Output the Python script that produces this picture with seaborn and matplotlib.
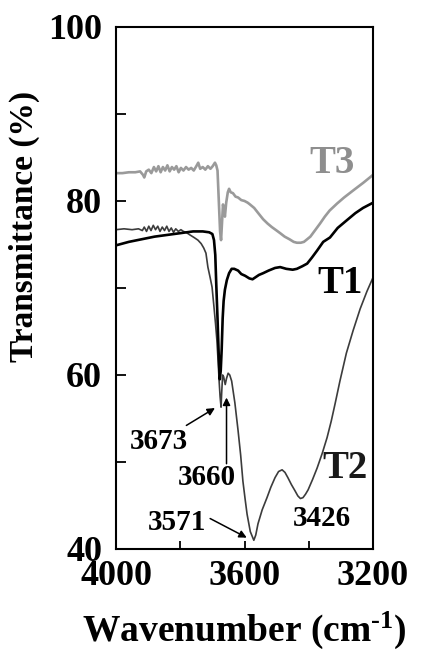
import matplotlib
matplotlib.use("Agg")
import matplotlib.pyplot as plt
import seaborn as sns
import pandas as pd
from matplotlib.ticker import MultipleLocator

# FTIR spectra in the O-H stretching region (wavenumber in cm-1, transmittance in %)
t1_wn = [4000, 3960, 3920, 3880, 3840, 3800, 3760, 3730, 3710, 3700, 3695, 3691,
         3688, 3684, 3680, 3677, 3674, 3671, 3668, 3665, 3661, 3655, 3648, 3640,
         3632, 3620, 3610, 3598, 3585, 3575, 3567, 3555, 3542, 3525, 3505, 3489,
         3470, 3450, 3437, 3420, 3405, 3390, 3374, 3355, 3334, 3310, 3281, 3255,
         3231, 3200]
t1_tr = [74.9, 75.3, 75.6, 75.9, 76.1, 76.3, 76.5, 76.5, 76.4, 76.2, 75.5, 73.8,
         70.5, 66.5, 62.0, 59.5, 60.5, 63.0, 66.5, 68.5, 69.8, 70.9, 71.7, 72.2,
         72.2, 72.0, 71.6, 71.4, 71.1, 71.0, 71.2, 71.5, 71.7, 72.0, 72.3, 72.4,
         72.2, 72.1, 72.2, 72.5, 72.8, 73.5, 74.3, 75.3, 75.8, 76.9, 77.8, 78.6,
         79.2, 79.8]

t2_wn = [4000, 3975, 3950, 3930, 3918, 3912, 3905, 3898, 3891, 3884, 3877, 3870,
         3863, 3856, 3849, 3842, 3835, 3828, 3821, 3814, 3806, 3798, 3790, 3782,
         3770, 3757, 3745, 3735, 3727, 3720, 3714, 3707, 3701, 3695, 3690, 3686,
         3682, 3679, 3676, 3673, 3671, 3668, 3665, 3660, 3656, 3651, 3646, 3640,
         3630, 3620, 3612, 3605, 3598, 3592, 3582, 3571, 3565, 3558, 3545, 3530,
         3518, 3505, 3494, 3483, 3474, 3465, 3454, 3443, 3434, 3426, 3418, 3410,
         3402, 3388, 3374, 3358, 3343, 3330, 3318, 3303, 3283, 3262, 3240, 3219,
         3200]
t2_tr = [76.7, 76.8, 76.7, 76.8, 76.6, 77.0, 76.5, 77.1, 76.6, 77.2, 76.7, 77.1,
         76.5, 77.0, 76.6, 77.1, 76.5, 76.9, 76.4, 76.8, 76.5, 76.7, 76.5, 76.4,
         76.1, 75.8, 75.5, 75.1, 74.6, 74.0, 72.4, 71.2, 70.1, 67.8, 65.8, 64.0,
         61.5, 59.3, 57.5, 56.3, 58.0, 60.0, 59.8, 58.9, 59.6, 60.2, 60.0, 59.3,
         56.8, 53.6, 50.8, 47.8, 45.7, 44.0, 42.0, 41.0, 41.6, 42.9, 44.5, 45.9,
         47.1, 48.2, 48.9, 49.1, 48.8, 48.2, 47.4, 46.7, 46.1, 45.8, 45.9, 46.3,
         46.8, 48.0, 49.3, 51.0, 52.8, 54.7, 56.7, 59.3, 62.5, 65.1, 67.6, 69.6,
         71.2]

t3_wn = [4000, 3980, 3960, 3940, 3925, 3916, 3912, 3906, 3898, 3890, 3882, 3875,
         3868, 3861, 3854, 3847, 3840, 3833, 3826, 3819, 3812, 3805, 3798, 3790,
         3782, 3774, 3766, 3758, 3750, 3744, 3738, 3730, 3722, 3714, 3706, 3699,
         3692, 3688, 3684, 3680, 3676, 3673, 3670, 3667, 3664, 3661, 3657, 3652,
         3648, 3643, 3636, 3628, 3620, 3610, 3600, 3590, 3583, 3570, 3555, 3542,
         3528, 3515, 3500, 3489, 3475, 3460, 3447, 3437, 3425, 3415, 3405, 3395,
         3385, 3375, 3365, 3350, 3335, 3312, 3290, 3262, 3230, 3200]
t3_tr = [83.2, 83.2, 83.3, 83.3, 83.4, 83.0, 82.7, 83.4, 83.6, 83.2, 83.9, 83.4,
         84.0, 83.3, 83.9, 83.5, 84.1, 83.4, 83.9, 83.6, 84.0, 83.3, 83.8, 83.5,
         83.9, 83.6, 83.8, 83.5, 84.0, 84.4, 83.7, 83.9, 83.6, 84.0, 83.7, 84.0,
         84.4, 84.1, 83.5, 80.0, 76.5, 75.5, 77.5, 79.6, 78.9, 78.2, 79.8, 81.0,
         81.4, 81.0, 80.9, 80.5, 80.4, 80.1, 80.0, 79.8, 79.6, 79.2, 78.5, 77.9,
         77.4, 77.0, 76.6, 76.3, 75.9, 75.6, 75.3, 75.2, 75.2, 75.3, 75.6, 75.9,
         76.4, 76.9, 77.4, 78.2, 78.9, 79.7, 80.4, 81.2, 82.1, 83.0]

sample_names = ["T1", "T2", "T3"]
x_ticks = [4000, 3600, 3200]
y_ticks = [40, 60, 80, 100]

# peak assignments: label, text position, arrow tail, arrow head (None = no arrow)
peak_labels = ["3673", "3660", "3571", "3426"]
peak_text_xy = [(3868, 52.4), (3717, 48.2), (3810, 43.0), (3360, 43.5)]
peak_arrow_tail = [(3781, 54.2), (3656, 49.8), (3707, 43.5), None]
peak_arrow_head = [(3692, 56.2), (3656, 57.4), (3593, 41.3), None]

sns.set_theme(style="ticks")
plt.rcParams["font.family"] = ["Liberation Serif", "DejaVu Serif"]
plt.rcParams["font.weight"] = "bold"
plt.rcParams["text.color"] = "black"
plt.rcParams["axes.labelcolor"] = "black"
plt.rcParams["xtick.color"] = "black"
plt.rcParams["ytick.color"] = "black"
plt.rcParams["mathtext.fontset"] = "custom"
plt.rcParams["mathtext.rm"] = "Liberation Serif:bold"
plt.rcParams["mathtext.bf"] = "Liberation Serif:bold"
plt.rcParams["mathtext.it"] = "Liberation Serif:bold"
plt.rcParams["mathtext.default"] = "bf"

df = pd.concat([
    pd.DataFrame({"wn": t1_wn, "tr": t1_tr, "sample": "T1"}),
    pd.DataFrame({"wn": t2_wn, "tr": t2_tr, "sample": "T2"}),
    pd.DataFrame({"wn": t3_wn, "tr": t3_tr, "sample": "T3"}),
], ignore_index=True)

fig = plt.figure(figsize=(4.22, 6.53), dpi=100)
ax = fig.add_axes([0.2749, 0.1593, 0.8839 - 0.2749, 0.9587 - 0.1593])

line_colors = {"T1": "#000000", "T2": "#3c3c3c", "T3": "#9a9a9a"}
line_widths = {"T1": 1.9, "T2": 1.2, "T3": 1.9}
for name in ["T3", "T2", "T1"]:
    sns.lineplot(data=df[df["sample"] == name], x="wn", y="tr", ax=ax,
                 color=line_colors[name], lw=line_widths[name],
                 estimator=None, sort=True, legend=False)

ax.set_xlim(4000, 3200)
ax.set_ylim(40, 100)
ax.set_xticks(x_ticks)
ax.set_xticklabels([str(v) for v in x_ticks])
ax.xaxis.set_minor_locator(MultipleLocator(200))
ax.set_yticks(y_ticks)
ax.set_yticklabels([str(v) for v in y_ticks])
ax.yaxis.set_minor_locator(MultipleLocator(10))

ax.tick_params(axis="x", which="both", direction="in", length=6, width=1.3,
               labelsize=26, pad=8, top=False, colors="black")
ax.tick_params(axis="y", which="both", direction="in", length=7.5, width=1.3,
               labelsize=26, pad=10, right=False, colors="black")
for s in ax.spines.values():
    s.set_visible(True)
    s.set_linewidth(1.5)
    s.set_color("black")

ax.set_xlabel(r"Wavenumber (cm$^{\text{-1}}$)", fontsize=27, fontweight="bold",
              labelpad=12, color="black")
ax.set_ylabel("Transmittance (%)", fontsize=24, fontweight="bold", color="black")
ax.yaxis.set_label_coords(-0.296, 0.617)

# sample labels
ax.text(3327, 84.3, "T3", color="#8e8e8e", fontsize=28, fontweight="bold",
        ha="center", va="center")
ax.text(3302, 70.5, "T1", color="black", fontsize=28, fontweight="bold",
        ha="center", va="center")
ax.text(3287, 49.3, "T2", color="#1a1a1a", fontsize=28, fontweight="bold",
        ha="center", va="center")

for lab, txy, tail, head in zip(peak_labels, peak_text_xy, peak_arrow_tail, peak_arrow_head):
    ax.text(txy[0], txy[1], lab, fontsize=21, fontweight="bold",
            ha="center", va="center", color="black")
    if tail is not None:
        ax.annotate("", xy=head, xytext=tail,
                    arrowprops=dict(arrowstyle="-|>", color="black", lw=1.1,
                                    mutation_scale=11, shrinkA=0, shrinkB=0))

fig.savefig("out.png", dpi=100)
